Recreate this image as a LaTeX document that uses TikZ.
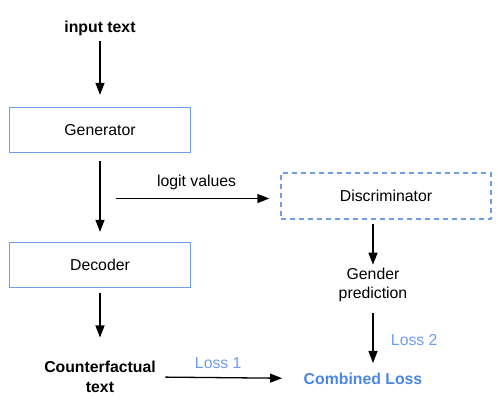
\documentclass[tikz,border=0pt]{standalone}
\usepackage{fontspec}
\setmainfont{Liberation Sans}
\usetikzlibrary{positioning,arrows.meta}
\definecolor{boxblue}{HTML}{6D9EEB}
\definecolor{lossblue}{HTML}{6D9EEB}
\definecolor{combblue}{HTML}{4A86E8}
\newcommand{\diagfont}{\fontsize{15.8}{19.5}\selectfont}

\begin{document}
\begin{tikzpicture}[on grid,auto,>={Triangle[length=12pt,width=9pt]},
		font=\diagfont,
		block/.style={draw=boxblue,line width=1.3pt,minimum width=181pt,minimum height=45pt},
		txt/.style={inner sep=2pt,align=center},
		flow/.style={line width=1.3pt}]
		\useasboundingbox (-100pt,-274pt) rectangle (398pt,130pt);
		\node[block] (gen) {Generator};
		\node[txt,font=\diagfont\bfseries] (in) [above=102pt of gen] {input text};
		\node[block] (dec) [below=135pt of gen] {Decoder};
		\node[txt,font=\fontsize{15.8}{20}\selectfont\bfseries] (cf) [below=111.5pt of dec] {Counterfactual\\text};
		\node[block,dash pattern=on 5pt off 4pt,minimum width=210pt,minimum height=46pt] (disc) [below right=66pt and 286pt of gen] {Discriminator};
		\node[txt] (gp) [below left=89pt and 13pt of disc] {Gender\\prediction};
		\node[txt,font=\diagfont\bfseries,text=combblue] (comb) [below left=94pt and 10pt of gp] {Combined Loss};
		\coordinate[below right=68.5pt and 16pt of gen] (lgt);
		
		\path[->,flow] 
		(in) edge [shorten <=3pt,shorten >=12pt] (gen)
		(gen) edge [shorten <=8pt,shorten >=10pt] (dec)
		(dec) edge [shorten <=5pt,shorten >=21pt] (cf)
		(lgt) edge [shorten >=11pt] node [pos=0.49,above=4.5pt] {logit values} (lgt -| disc.west)
		(gp.north |- disc.south) edge [shorten <=4pt,shorten >=1pt] (gp.north)
		(gp.south) edge [shorten <=9pt,shorten >=8pt] node [pos=0.54,right=14pt,text=lossblue] {Loss 2} (gp.south |- comb.north)
		(cf) edge [shorten <=7.5pt,shorten >=19.5pt] node [pos=0.42,above=5pt,text=lossblue] {Loss 1} (comb)
		;
	\end{tikzpicture}
\end{document}
